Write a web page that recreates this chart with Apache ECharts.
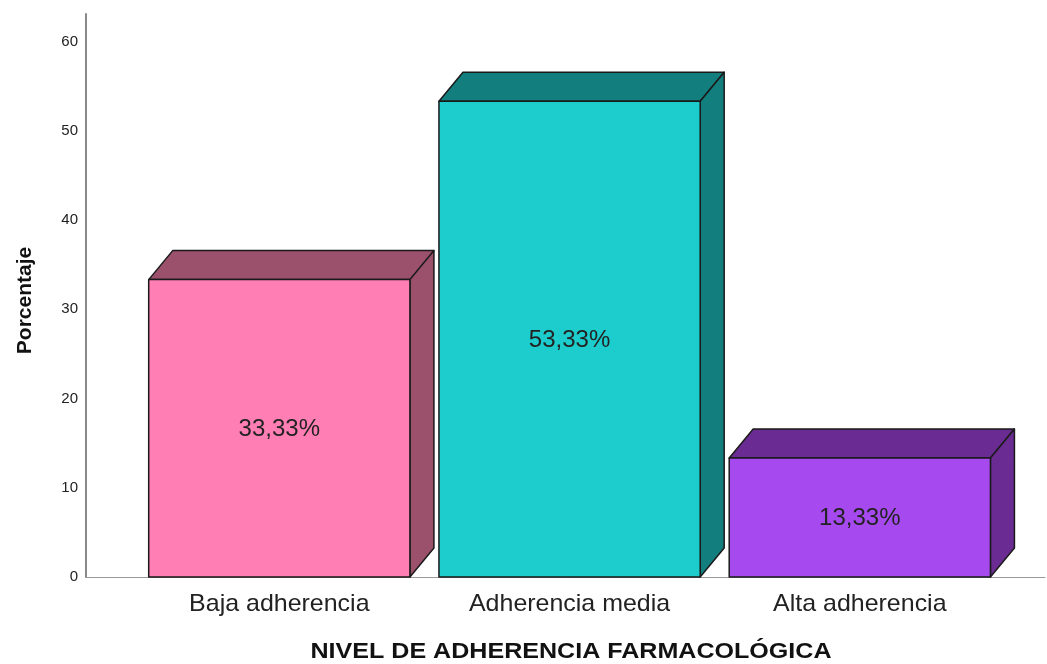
<!DOCTYPE html>
<html><head><meta charset="utf-8">
<script src="https://cdn.jsdelivr.net/npm/echarts@6/dist/echarts.min.js"></script>
<style>html,body{margin:0;padding:0;background:#fff}#c{width:1047px;height:664px}</style>
</head><body><div id="c"></div>
<script>
const categories = ['Baja adherencia', 'Adherencia media', 'Alta adherencia'];
const values = [33.33, 53.33, 13.33];
const valueLabels = ['33,33%', '53,33%', '13,33%'];
const yTicks = [0, 10, 20, 30, 40, 50, 60];
const xTitle = 'NIVEL DE ADHERENCIA FARMACOLÓGICA';
const yTitle = 'Porcentaje';
const frontColors = ['#FF7FB4', '#1DCDCD', '#A64AF0'];
const sideColors = ['#9B506C', '#137E7E', '#6A2C93'];

const FONT = '"Liberation Sans", Arial, sans-serif';
const DX = 24, DY = 29, HALF = 0.45;
const chart = echarts.init(document.getElementById('c'));
const data = values.map((v, i) => [i, v]);

chart.setOption({
  animation: false,
  grid: { left: 86, right: 2, top: 14, bottom: 87, containLabel: false, outerBoundsMode: 'none' },
  xAxis: {
    type: 'value', min: -0.666, max: 2.638,
    axisLine: { show: true, onZero: false, lineStyle: { color: '#999', width: 1 } },
    axisTick: { show: false }, axisLabel: { show: false }, splitLine: { show: false }
  },
  yAxis: {
    type: 'value', min: 0, max: 63.1, interval: 10,
    axisLine: { show: true, onZero: false, lineStyle: { color: '#888', width: 2 } },
    axisTick: { show: false }, splitLine: { show: false },
    axisLabel: { showMaxLabel: false, fontFamily: FONT, fontSize: 15, color: '#222', margin: 8,
      formatter: v => (yTicks.indexOf(v) >= 0 ? String(v) : '') },
    name: yTitle, nameLocation: 'middle', nameGap: 50,
    nameTextStyle: { fontFamily: FONT, fontSize: 21, fontWeight: 'bold', color: '#111', padding: [0, 0, 0, -10] }
  },
  graphic: [{
    type: 'text', x: 571, y: 652, scaleX: 1.14,
    style: { text: xTitle, fontFamily: FONT, fontSize: 22, fontWeight: 'bold', fill: '#111', align: 'center', verticalAlign: 'middle' }
  }],
  series: [{
    type: 'custom',
    data: data,
    encode: { x: 0, y: 1 },
    renderItem: function (params, api) {
      const i = api.value(0), v = api.value(1);
      const tl = api.coord([i - HALF, v]);
      const br = api.coord([i + HALF, 0]);
      const x0 = tl[0], y0 = tl[1], x1 = br[0], y1 = br[1];
      const stroke = { stroke: '#1a1a1a', lineWidth: 1.5, lineJoin: 'round' };
      const lab = api.coord([i, 0]);
      return {
        type: 'group',
        children: [
          { type: 'polygon', shape: { points: [[x0, y0], [x0 + DX, y0 - DY], [x1 + DX, y0 - DY], [x1, y0]] },
            style: Object.assign({ fill: sideColors[i] }, stroke) },
          { type: 'polygon', shape: { points: [[x1, y0], [x1 + DX, y0 - DY], [x1 + DX, y1 - DY], [x1, y1]] },
            style: Object.assign({ fill: sideColors[i] }, stroke) },
          { type: 'rect', shape: { x: x0, y: y0, width: x1 - x0, height: y1 - y0 },
            style: Object.assign({ fill: frontColors[i] }, stroke) },
          { type: 'text', x: (x0 + x1) / 2, y: (y0 + y1) / 2 + 1,
            style: { text: valueLabels[i], fontFamily: FONT, fontSize: 24, fill: '#222', align: 'center', verticalAlign: 'middle' } },
          { type: 'text', x: lab[0], y: lab[1] + 27, scaleX: 1.04,
            style: { text: categories[i], fontFamily: FONT, fontSize: 24, fill: '#222', align: 'center', verticalAlign: 'middle' } }
        ]
      };
    }
  }]
});
</script></body></html>
